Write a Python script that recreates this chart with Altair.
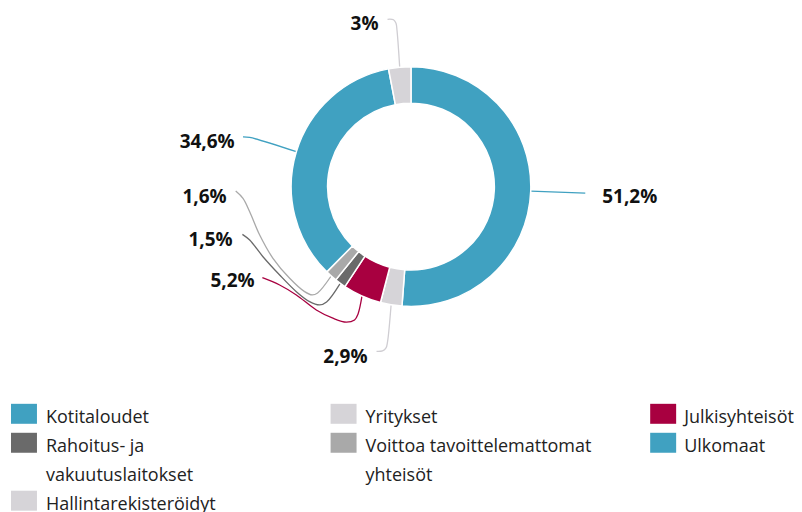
import math
import altair as alt
import pandas as pd

# ---------------- data ----------------
categories = [
    "Kotitaloudet",
    "Yritykset",
    "Julkisyhteisöt",
    "Rahoitus- ja vakuutuslaitokset",
    "Voittoa tavoittelemattomat yhteisöt",
    "Ulkomaat",
    "Hallintarekisteröidyt",
]
values = [51.2, 2.9, 5.2, 1.5, 1.6, 34.6, 3.0]
value_labels = ["51,2%", "2,9%", "5,2%", "1,5%", "1,6%", "34,6%", "3%"]
legend_labels = [
    "Kotitaloudet",
    "Yritykset",
    "Julkisyhteisöt",
    "Rahoitus- ja\nvakuutuslaitokset",
    "Voittoa tavoittelemattomat\nyhteisöt",
    "Ulkomaat",
    "Hallintarekisteröidyt",
]

# ---------------- styles ----------------
colors = ["#40a1c1", "#d6d4d8", "#a80040", "#6a6a6a", "#a9a9a9", "#40a1c1", "#d6d4d8"]
line_colors = ["#40a1c1", "#cfcdd2", "#a80040", "#6a6a6a", "#a9a9a9", "#40a1c1", "#cfcdd2"]
FONT = "Open Sans"

# ---------------- layout (page pixel coordinates) ----------------
M = 8
W, H = 786, 496
CX, CY = 411.5, 186.5
R_OUT, R_IN = 120, 83.5
label_pos = [(603, 197, "left"), (368, 357, "right"), (255, 281.5, "right"),
             (233, 239.5, "right"), (227, 196.5, "right"), (235, 141.5, "right"),
             (379, 23.5, "right")]
# leader-line routes: from the label towards the ring (ring point is computed from the data)
leader_route = [
    [(586, 193)],
    [(377, 351.5), (383, 351), (386.5, 348), (388, 342)],
    [(262.7, 277.7), (280, 285), (296.7, 295), (316.7, 310), (333.3, 318.3),
     (346.7, 322.3), (355, 320), (358.5, 314)],
    [(242.7, 234.3), (250, 240), (263.3, 256.7), (280, 275), (296.7, 291.7),
     (310, 301.7), (320, 305), (327, 302)],
    [(236, 191), (243.3, 198.3), (250, 211.7), (260, 235), (273.3, 258.3),
     (290, 278.3), (305, 291.7), (312.5, 295), (318, 293)],
    [(243.3, 136.7), (250, 137.3)],
    [(388, 19), (394, 19.5), (396.5, 23), (397.5, 30)],
]
LEG_X0, LEG_DX, LEG_TX = 11, 320, 46
LEG_Y0, LEG_DY = 404, 29
SQ_W, SQ_H = 26, 20

# ---------------- tables ----------------
donut_df = pd.DataFrame({"category": categories, "value": values, "idx": range(len(values))})

total = sum(values)
cum = 0.0
line_rows = []
for i, v in enumerate(values):
    a = (cum + v / 2) / total * 2 * math.pi
    cum += v
    dx, dy = CX + R_OUT * math.sin(a), CY - R_OUT * math.cos(a)
    pts = leader_route[i] + [(dx, dy)]
    for k, (px, py) in enumerate(pts):
        line_rows.append({"id": i, "k": k, "x": px, "y": py, "col": line_colors[i]})
line_df = pd.DataFrame(line_rows)

lab_df = pd.DataFrame({
    "label": value_labels,
    "x": [p[0] for p in label_pos],
    "y": [p[1] for p in label_pos],
    "align": [p[2] for p in label_pos],
})

# legend rows
ncol = 3
groups = [legend_labels[i:i + ncol] for i in range(0, len(legend_labels), ncol)]
group_start = []
acc = 0
for g in groups:
    group_start.append(acc)
    acc += max(len(s.split("\n")) for s in g)
rect_rows, text_rows = [], []
for i, lab in enumerate(legend_labels):
    c, g = i % ncol, i // ncol
    line = group_start[g]
    x0 = LEG_X0 + LEG_DX * c
    y0 = LEG_Y0 + LEG_DY * line
    rect_rows.append({"category": categories[i], "x": x0, "x2": x0 + SQ_W, "y": y0, "y2": y0 + SQ_H})
    for j, part in enumerate(lab.split("\n")):
        text_rows.append({"t": part, "x": LEG_TX + LEG_DX * c - (1 if c == 2 else 0),
                          "y": y0 + SQ_H / 2 + 9 + LEG_DY * j})
rect_df = pd.DataFrame(rect_rows)
ltext_df = pd.DataFrame(text_rows)

xs = alt.Scale(domain=[M, M + W], nice=False, zero=False)
ys = alt.Scale(domain=[M, M + H], nice=False, zero=False, reverse=True)
cscale = alt.Scale(domain=categories, range=colors)

arcs = alt.Chart(donut_df).mark_arc(
    radius=R_OUT, radius2=R_IN, stroke="white", strokeWidth=1.5
).encode(
    theta=alt.Theta("value:Q", stack=True),
    color=alt.Color("category:N", scale=cscale, legend=None),
    order=alt.Order("idx:Q"),
    x=alt.value(CX - M),
    y=alt.value(CY - M),
)

leaders = alt.Chart(line_df).mark_line(interpolate="catmull-rom", strokeWidth=1.3).encode(
    x=alt.X("x:Q", scale=xs, axis=None),
    y=alt.Y("y:Q", scale=ys, axis=None),
    detail="id:N",
    order="k:Q",
    stroke=alt.Stroke("col:N", scale=None),
)

def label_layer(al):
    return alt.Chart(lab_df).transform_filter(alt.datum.align == al).mark_text(
        align=al, baseline="middle", font=FONT, fontSize=19, fontWeight="bold", color="#111111"
    ).encode(
        x=alt.X("x:Q", scale=xs, axis=None),
        y=alt.Y("y:Q", scale=ys, axis=None),
        text="label:N",
    )

leg_rects = alt.Chart(rect_df).mark_rect().encode(
    x=alt.X("x:Q", scale=xs, axis=None),
    x2="x2:Q",
    y=alt.Y("y:Q", scale=ys, axis=None),
    y2="y2:Q",
    color=alt.Color("category:N", scale=cscale, legend=None),
)

leg_text = alt.Chart(ltext_df).mark_text(
    align="left", baseline="alphabetic", font=FONT, fontSize=18, color="#222222"
).encode(
    x=alt.X("x:Q", scale=xs, axis=None),
    y=alt.Y("y:Q", scale=ys, axis=None),
    text="t:N",
)

chart = alt.layer(
    leaders, arcs, label_layer("left"), label_layer("right"), leg_rects, leg_text
).properties(
    width=W, height=H, padding=0
).configure_view(stroke=None)

chart.save("out.html", embed_options={"renderer": "svg", "actions": False})
